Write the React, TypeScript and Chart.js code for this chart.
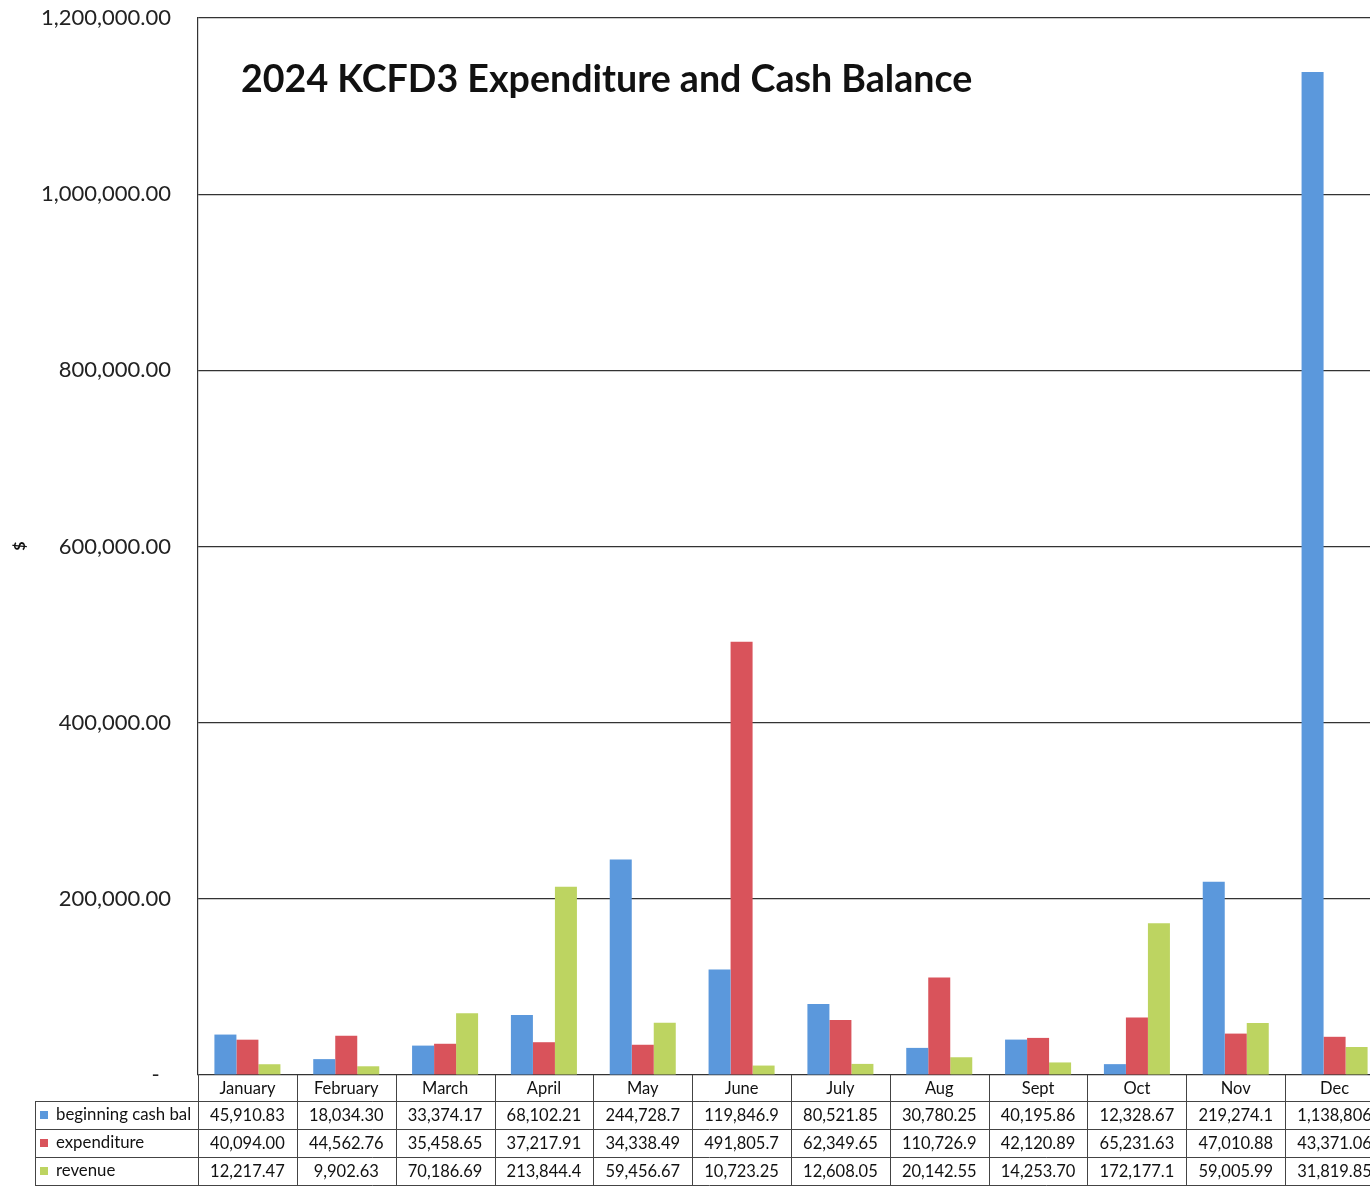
import React, { useEffect, useRef } from "react";
import { Chart, registerables } from "chart.js";

Chart.register(...registerables);

const titleText = "2024 KCFD3 Expenditure and Cash Balance";
const yAxisTitle = "$";
const months = ["January", "February", "March", "April", "May", "June", "July", "Aug", "Sept", "Oct", "Nov", "Dec"];
const seriesNames = ["beginning cash bal", "expenditure", "revenue"];
const beginningCashBal = [45910.83, 18034.3, 33374.17, 68102.21, 244728.7, 119846.9, 80521.85, 30780.25, 40195.86, 12328.67, 219274.1, 1138806];
const expenditure = [40094.0, 44562.76, 35458.65, 37217.91, 34338.49, 491805.7, 62349.65, 110726.9, 42120.89, 65231.63, 47010.88, 43371.06];
const revenue = [12217.47, 9902.63, 70186.69, 213844.4, 59456.67, 10723.25, 12608.05, 20142.55, 14253.7, 172177.1, 59005.99, 31819.85];
const yMin = 0;
const yMax = 1200000;
const yStep = 200000;

const colors = ["#5b98dc", "#d9535b", "#bdd461"];
const FONT = "Lato, 'Open Sans', sans-serif";

function fmtCell(v: number): string {
  for (const d of [2, 1, 0]) {
    const s = v.toLocaleString("en-US", { minimumFractionDigits: d, maximumFractionDigits: d });
    if (s.length <= 9) return s;
  }
  return Math.round(v).toLocaleString("en-US");
}

const overlayPlugin = {
  id: "overlay",
  afterDraw(chart: any) {
    const ctx = chart.ctx as CanvasRenderingContext2D;
    const area = chart.chartArea;
    const xs = chart.scales.x;
    ctx.save();
    // Title
    ctx.fillStyle = "#111";
    ctx.font = `bold 37.6px ${FONT}`;
    ctx.textAlign = "left";
    ctx.textBaseline = "alphabetic";
    ctx.fillText(titleText, 241, 92);

    // Y axis title rotated
    ctx.save();
    ctx.translate(20, 546);
    ctx.rotate(-Math.PI / 2);
    ctx.font = `bold 16px ${FONT}`;
    ctx.textAlign = "center";
    ctx.textBaseline = "middle";
    ctx.fillText(yAxisTitle, 0, 0);
    ctx.restore();

    // Data table
    const n = months.length;
    const colW = xs.getPixelForValue(1) - xs.getPixelForValue(0);
    const colLeft = (i: number) => xs.getPixelForValue(i) - colW / 2;
    const top = area.bottom;
    const rowH = 28;
    const headerBottom = top + 26;
    const tableLeft = 35;
    const tableRight = colLeft(n - 1) + colW;
    ctx.strokeStyle = "#444";
    ctx.lineWidth = 1;
    ctx.beginPath();
    for (let r = 0; r <= 3; r++) {
      const y = Math.round(headerBottom + r * rowH) + 0.5;
      ctx.moveTo(tableLeft, y);
      ctx.lineTo(tableRight, y);
    }
    ctx.moveTo(tableLeft + 0.5, headerBottom);
    ctx.lineTo(tableLeft + 0.5, headerBottom + 3 * rowH);
    for (let i = 0; i <= n; i++) {
      const x = Math.round(colLeft(i)) + 0.5;
      ctx.moveTo(x, top);
      ctx.lineTo(x, headerBottom + 3 * rowH);
    }
    ctx.stroke();

    ctx.fillStyle = "#111";
    ctx.font = `16.5px ${FONT}`;
    ctx.textAlign = "center";
    ctx.textBaseline = "middle";
    months.forEach((m, i) => {
      ctx.fillText(m, xs.getPixelForValue(i), top + 14);
    });
    const rows = [beginningCashBal, expenditure, revenue];
    rows.forEach((vals, r) => {
      const cy = headerBottom + r * rowH + rowH / 2;
      ctx.textAlign = "center";
      ctx.font = `16.5px ${FONT}`;
      vals.forEach((v, i) => {
        ctx.fillText(fmtCell(v), xs.getPixelForValue(i), cy + 1);
      });
      ctx.fillStyle = colors[r];
      ctx.fillRect(40, cy - 4, 8, 8);
      ctx.fillStyle = "#111";
      ctx.textAlign = "left";
      ctx.font = `16.8px ${FONT}`;
      ctx.fillText(seriesNames[r], 56, cy);
    });
    ctx.restore();
  },
};

export default function App() {
  const ref = useRef<HTMLCanvasElement | null>(null);
  useEffect(() => {
    if (!ref.current) return;
    const chart = new Chart(ref.current, {
      type: "bar",
      data: {
        labels: months,
        datasets: [beginningCashBal, expenditure, revenue].map((d, i) => ({
          label: seriesNames[i],
          data: d,
          backgroundColor: colors[i],
          borderWidth: 0,
          barPercentage: 1,
          categoryPercentage: 0.668,
        })),
      },
      options: {
        responsive: false,
        animation: false,
        layout: { padding: { left: 0, right: 6, top: 18, bottom: 111 } },
        plugins: { legend: { display: false }, tooltip: { enabled: false }, title: { display: false } },
        scales: {
          x: { display: false, offset: true },
          y: {
            min: yMin,
            max: yMax,
            afterFit: (s: any) => {
              s.width = 198;
            },
            afterBuildTicks: (s: any) => {
              const t = [];
              for (let v = yMin; v <= yMax; v += yStep) t.push({ value: v });
              s.ticks = t;
            },
            ticks: {
              padding: 0,
              color: "#222",
              font: { family: FONT, size: 22 },
              callback: (v: any) =>
                Number(v) === 0
                  ? "-  "
                  : Number(v).toLocaleString("en-US", { minimumFractionDigits: 2, maximumFractionDigits: 2 }),
            },
            grid: { color: "#333", lineWidth: 1.2, drawTicks: true, tickLength: 27, tickColor: "rgba(0,0,0,0)" },
            border: { display: true, color: "#333", width: 1.2 },
          },
        },
      },
      plugins: [overlayPlugin],
    });
    return () => chart.destroy();
  }, []);
  return (
    <div style={{ position: "fixed", left: 0, top: 0, width: 1370, height: 1186, overflow: "hidden", background: "#fff" }}>
      <canvas ref={ref} width={1390} height={1186} style={{ display: "block" }} />
    </div>
  );
}
